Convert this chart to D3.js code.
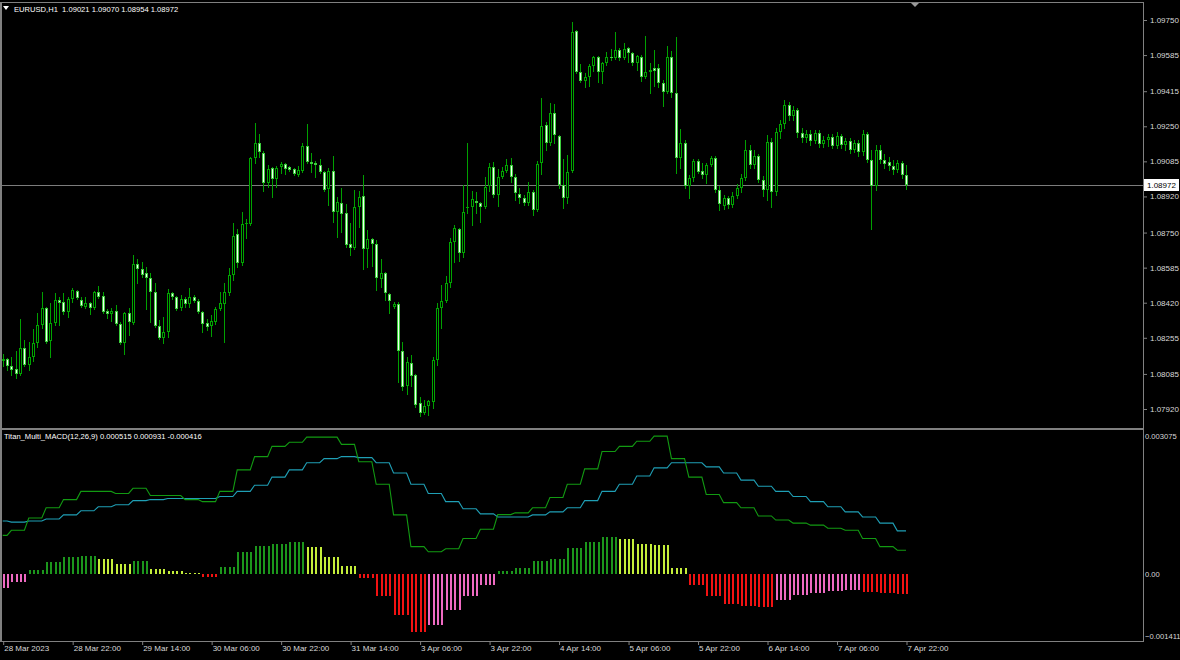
<!DOCTYPE html>
<html><head><meta charset="utf-8">
<script src="https://cdn.jsdelivr.net/npm/d3@7"></script>
<style>html,body{margin:0;padding:0;background:#000;overflow:hidden}svg{display:block}</style>
</head><body><svg id="c" width="1180" height="660"></svg>
<script>
// ---------------- DATA ----------------
const symbolTitle = "EURUSD,H1";
const lastOHLC = ["1.09021", "1.09070", "1.08954", "1.08972"];
const macdTitle = "Titan_Multi_MACD(12,26,9)";
const macdLastValues = ["0.000515", "0.000931", "-0.000416"];
const lastPrice = 1.08972;
const firstBarHour = 6; // first bar: 28 Mar 2023 06:00, H1 bars, MACD computed on H4

const open = [1.08146,1.08156,1.08123,1.08109,1.08085,1.08207,1.08127,1.08165,1.08231,1.08315,
1.08395,1.08240,1.08325,1.08433,1.08424,1.08377,1.08438,1.08475,1.08433,1.08400,
1.08419,1.08395,1.08471,1.08452,1.08381,1.08367,1.08381,1.08320,1.08231,1.08372,
1.08325,1.08602,1.08579,1.08560,1.08536,1.08471,1.08311,1.08254,1.08283,1.08466,
1.08447,1.08395,1.08438,1.08414,1.08447,1.08428,1.08377,1.08325,1.08311,1.08330,
1.08391,1.08414,1.08466,1.08550,1.08743,1.08607,1.08790,1.08790,1.09100,1.09171,
1.09124,1.08983,1.09053,1.09002,1.09058,1.09072,1.09058,1.09049,1.09020,1.09039,
1.09157,1.09082,1.09077,1.09067,1.09035,1.08955,1.09039,1.08847,1.08889,1.08842,
1.08696,1.08677,1.08870,1.08922,1.08672,1.08720,1.08696,1.08531,1.08560,1.08461,
1.08400,1.08414,1.08193,1.08028,1.08137,1.08080,1.07948,1.07901,1.07934,1.07953,
1.08151,1.08395,1.08428,1.08513,1.08706,1.08767,1.08654,1.08865,1.08870,1.08898,
1.08889,1.08870,1.08969,1.09058,1.08926,1.09011,1.09039,1.09067,1.09011,1.08931,
1.08912,1.08889,1.08941,1.08856,1.09077,1.09256,1.09171,1.09313,1.09204,1.08973,
1.08912,1.09039,1.09698,1.09506,1.09463,1.09482,1.09534,1.09576,1.09506,1.09548,
1.09576,1.09571,1.09609,1.09571,1.09618,1.09595,1.09548,1.09576,1.09482,1.09506,
1.09524,1.09524,1.09454,1.09412,1.09576,1.09407,1.09100,1.09171,1.08969,1.09006,
1.09086,1.09039,1.09020,1.09067,1.09100,1.08950,1.08875,1.08912,1.08879,1.08922,
1.08959,1.09006,1.09138,1.09067,1.09110,1.08997,1.08950,1.09176,1.08941,1.09223,
1.09261,1.09350,1.09299,1.09327,1.09218,1.09194,1.09213,1.09180,1.09218,1.09166,
1.09185,1.09199,1.09157,1.09204,1.09161,1.09180,1.09138,1.09171,1.09128,1.09213,
1.09091,1.08969,1.09138,1.09091,1.09082,1.09063,1.09044,1.09077,1.09021];

const high = [1.08179,1.08160,1.08165,1.08193,1.08344,1.08245,1.08236,1.08297,1.08372,1.08471,
1.08400,1.08419,1.08466,1.08447,1.08466,1.08447,1.08489,1.08480,1.08447,1.08447,
1.08424,1.08475,1.08499,1.08471,1.08391,1.08395,1.08409,1.08330,1.08377,1.08395,
1.08644,1.08626,1.08612,1.08588,1.08560,1.08513,1.08339,1.08353,1.08485,1.08471,
1.08452,1.08456,1.08447,1.08489,1.08456,1.08438,1.08381,1.08344,1.08362,1.08400,
1.08471,1.08513,1.08583,1.08795,1.08767,1.08847,1.08814,1.09105,1.09266,1.09213,
1.09133,1.09067,1.09058,1.09063,1.09082,1.09077,1.09063,1.09053,1.09063,1.09171,
1.09261,1.09124,1.09086,1.09096,1.09039,1.09053,1.09110,1.08917,1.08959,1.08884,
1.08795,1.08950,1.08945,1.09020,1.08762,1.08724,1.08715,1.08626,1.08565,1.08466,
1.08424,1.08424,1.08236,1.08165,1.08174,1.08085,1.07976,1.07962,1.07962,1.08165,
1.08419,1.08503,1.08545,1.08724,1.08785,1.08771,1.08973,1.09171,1.08945,1.08941,
1.08894,1.09011,1.09077,1.09082,1.09049,1.09058,1.09096,1.09100,1.09025,1.08959,
1.08926,1.08988,1.08950,1.09086,1.09383,1.09270,1.09360,1.09355,1.09209,1.09096,
1.09115,1.09741,1.09703,1.09543,1.09501,1.09543,1.09581,1.09581,1.09553,1.09600,
1.09614,1.09694,1.09618,1.09642,1.09623,1.09600,1.09585,1.09585,1.09675,1.09548,
1.09609,1.09543,1.09468,1.09628,1.09604,1.09670,1.09237,1.09185,1.09020,1.09096,
1.09096,1.09077,1.09077,1.09110,1.09110,1.08969,1.08926,1.08922,1.08941,1.08978,
1.09025,1.09185,1.09161,1.09138,1.09119,1.09016,1.09209,1.09194,1.09242,1.09280,
1.09374,1.09364,1.09346,1.09336,1.09242,1.09232,1.09232,1.09232,1.09232,1.09204,
1.09213,1.09213,1.09223,1.09213,1.09194,1.09194,1.09185,1.09185,1.09232,1.09223,
1.09138,1.09161,1.09161,1.09119,1.09105,1.09091,1.09091,1.09086,1.09070];

const low = [1.08123,1.08104,1.08080,1.08066,1.08080,1.08123,1.08104,1.08146,1.08212,1.08301,
1.08231,1.08165,1.08315,1.08315,1.08367,1.08353,1.08424,1.08438,1.08400,1.08395,
1.08367,1.08391,1.08442,1.08372,1.08348,1.08334,1.08315,1.08226,1.08179,1.08268,
1.08320,1.08513,1.08541,1.08391,1.08330,1.08306,1.08250,1.08231,1.08259,1.08438,
1.08386,1.08386,1.08400,1.08400,1.08424,1.08372,1.08283,1.08292,1.08264,1.08320,
1.08386,1.08236,1.08456,1.08527,1.08588,1.08597,1.08724,1.08785,1.09077,1.09105,
1.08945,1.08964,1.08917,1.08964,1.09030,1.09025,1.09039,1.09020,1.09016,1.09035,
1.09077,1.09035,1.09011,1.09030,1.08945,1.08879,1.08800,1.08729,1.08753,1.08682,
1.08644,1.08672,1.08776,1.08579,1.08588,1.08593,1.08480,1.08494,1.08433,1.08372,
1.08395,1.08048,1.08009,1.07990,1.08028,1.07929,1.07887,1.07896,1.07891,1.07924,
1.08127,1.08301,1.08424,1.08494,1.08612,1.08616,1.08635,1.08842,1.08785,1.08842,
1.08800,1.08865,1.08945,1.08917,1.08875,1.09006,1.09035,1.08988,1.08903,1.08889,
1.08879,1.08879,1.08832,1.08851,1.09025,1.09138,1.09161,1.09171,1.08959,1.08865,
1.08889,1.09035,1.09501,1.09459,1.09435,1.09440,1.09510,1.09459,1.09454,1.09538,
1.09562,1.09567,1.09562,1.09567,1.09553,1.09538,1.09515,1.09463,1.09477,1.09407,
1.09440,1.09435,1.09346,1.09407,1.09388,1.09030,1.09053,1.08959,1.08912,1.08992,
1.09030,1.09006,1.08983,1.09063,1.08941,1.08856,1.08861,1.08865,1.08870,1.08912,
1.08941,1.08997,1.09053,1.09053,1.08988,1.08922,1.08903,1.08870,1.08926,1.09194,
1.09242,1.09280,1.09280,1.09199,1.09176,1.09176,1.09161,1.09171,1.09152,1.09152,
1.09157,1.09147,1.09147,1.09147,1.09138,1.09124,1.09128,1.09110,1.09115,1.09082,
1.08767,1.08950,1.09077,1.09053,1.09044,1.09025,1.09035,1.09006,1.08954];

const close = [1.08156,1.08123,1.08104,1.08085,1.08207,1.08127,1.08165,1.08231,1.08315,1.08395,
1.08236,1.08325,1.08433,1.08419,1.08377,1.08438,1.08480,1.08442,1.08405,1.08419,
1.08395,1.08471,1.08447,1.08377,1.08367,1.08381,1.08320,1.08231,1.08372,1.08330,
1.08602,1.08579,1.08550,1.08536,1.08471,1.08311,1.08254,1.08283,1.08466,1.08447,
1.08391,1.08438,1.08414,1.08447,1.08428,1.08377,1.08320,1.08306,1.08334,1.08391,
1.08419,1.08471,1.08550,1.08734,1.08607,1.08790,1.08795,1.09100,1.09171,1.09129,
1.08983,1.09049,1.09002,1.09053,1.09072,1.09049,1.09044,1.09025,1.09044,1.09157,
1.09082,1.09072,1.09067,1.09035,1.08950,1.09039,1.08847,1.08894,1.08837,1.08691,
1.08677,1.08870,1.08917,1.08672,1.08720,1.08696,1.08536,1.08560,1.08466,1.08428,
1.08414,1.08193,1.08024,1.08142,1.08076,1.07938,1.07901,1.07934,1.07957,1.08151,
1.08395,1.08428,1.08513,1.08706,1.08771,1.08654,1.08847,1.08870,1.08908,1.08889,
1.08870,1.08964,1.09058,1.08926,1.09011,1.09039,1.09067,1.09011,1.08936,1.08912,
1.08889,1.08941,1.08856,1.09072,1.09252,1.09171,1.09313,1.09209,1.08973,1.08912,
1.09035,1.09694,1.09506,1.09463,1.09482,1.09534,1.09576,1.09506,1.09548,1.09576,
1.09571,1.09609,1.09571,1.09614,1.09595,1.09548,1.09581,1.09482,1.09506,1.09515,
1.09510,1.09454,1.09412,1.09576,1.09407,1.09100,1.09171,1.08969,1.09006,1.09086,
1.09035,1.09020,1.09067,1.09100,1.08950,1.08884,1.08912,1.08879,1.08922,1.08959,
1.09006,1.09138,1.09067,1.09110,1.08997,1.08950,1.09176,1.08941,1.09223,1.09261,
1.09350,1.09299,1.09327,1.09218,1.09194,1.09213,1.09180,1.09218,1.09166,1.09185,
1.09199,1.09157,1.09204,1.09161,1.09180,1.09138,1.09171,1.09128,1.09213,1.09091,
1.08969,1.09138,1.09091,1.09072,1.09063,1.09044,1.09077,1.09021,1.08972];

const priceTicks = [1.09750,1.09585,1.09415,1.09250,1.09085,1.08920,1.08750,1.08585,1.08420,1.08255,1.08085,1.07920];
const priceRange = [1.07920, 1.09750];

const timeLabels = ["28 Mar 2023","28 Mar 22:00","29 Mar 14:00","30 Mar 06:00","30 Mar 22:00","31 Mar 14:00","3 Apr 06:00","3 Apr 22:00","4 Apr 14:00","5 Apr 06:00","5 Apr 22:00","6 Apr 14:00","7 Apr 06:00","7 Apr 22:00"];
const timeLabelBars = [0,16,32,48,64,80,96,112,128,144,160,176,192,208];

// H4 MACD values (one per H4 block)
const macdMain = [0.000834,0.000944,0.001208,0.001427,0.001603,0.001779,0.001779,0.001735,0.001845,0.001691,
0.001691,0.001603,0.001559,0.001779,0.00224,0.002525,0.002745,0.002833,0.002943,0.002943,
0.002789,0.002416,0.001932,0.001274,0.000593,0.000483,0.000549,0.000769,0.000966,0.00128,
0.001318,0.001427,0.001647,0.001932,0.002262,0.002635,0.002745,0.002855,0.002965,0.002481,
0.002086,0.001713,0.001537,0.001427,0.001252,0.001164,0.001098,0.001054,0.000988,0.000944,
0.000769,0.000593,0.000515];
const macdSignal = [0.001142,0.00112,0.001142,0.001186,0.001274,0.001362,0.001449,0.001493,0.001581,0.001603,
0.001625,0.001625,0.001625,0.001669,0.001779,0.001911,0.002086,0.00224,0.002394,0.002481,
0.002525,0.002503,0.002394,0.002174,0.001932,0.001735,0.001559,0.001405,0.001296,0.00123,
0.00123,0.001274,0.00134,0.001427,0.001581,0.001779,0.001932,0.002108,0.002284,0.002394,
0.002394,0.002306,0.002174,0.00202,0.001889,0.001779,0.001669,0.001559,0.001449,0.00134,
0.00123,0.001098,0.000931];
const macdHist = [-0.00029,-0.00017,0.000095,0.00026,0.00036,0.0004,0.00033,0.00023,0.00028,0.00011,
0.00008,0.00002,-0.00005,0.00015,0.00048,0.00061,0.00065,0.00069,0.00059,0.00037,
0.00018,-0.00009,-0.00046,-0.00088,-0.00125,-0.00108,-0.00077,-0.00046,-0.00022,0.00007,
0.00013,0.00029,0.00033,0.00057,0.0007,0.00079,0.00075,0.00066,0.00062,0.00013,
-0.00022,-0.00046,-0.00064,-0.00068,-0.0007,-0.00055,-0.00044,-0.0004,-0.00035,-0.00033,
-0.00037,-0.0004,-0.000416];
const macdRange = [-0.001411, 0.003075];
const macdTicks = [0.003075, 0, -0.001411];

// ---------------- LAYOUT / STYLE ----------------
const W = 1180, H = 660;
const L = 1, R = 1143;
const mainTop = 2, mainBot = 428;
const subTop = 430, subBot = 641;
const GRAY = "#808080", TXT = "#d8d8d8";
const BULL_EDGE = "#00a400", BEAR_EDGE = "#3ccc3c", WICK = "#00a000", BEARFILL = "#f2fff2";
const C_GREEN = "#1c961c", C_YELLOW = "#c4ee3a", C_RED = "#f21212", C_PINK = "#ee6ac2";
const FONT = "Liberation Sans, Arial, sans-serif";

const N = close.length;
const svg = d3.select("#c");
svg.append("rect").attr("width", W).attr("height", H).attr("fill", "#000");

const x = d3.scaleLinear().domain([0, N - 1]).range([2.7, 906]);
const y = d3.scaleLinear().domain(priceRange).range([409, 20]);
const ym = d3.scaleLinear().domain(macdRange).range([640, 431]);
const blockOf = i => Math.floor((i + firstBarHour % 4) / 4);

// clip paths
const defs = svg.append("defs");
defs.append("clipPath").attr("id", "cpMain").append("rect").attr("x", L + 1).attr("y", mainTop + 1).attr("width", R - L - 1).attr("height", mainBot - mainTop - 1);
defs.append("clipPath").attr("id", "cpSub").append("rect").attr("x", L + 1).attr("y", subTop + 1).attr("width", R - L - 1).attr("height", subBot - subTop - 1);

// ---- current price line
svg.append("line").attr("x1", L).attr("x2", R).attr("y1", Math.round(y(lastPrice)) + 0.5).attr("y2", Math.round(y(lastPrice)) + 0.5)
  .attr("stroke", "#7c7c7c").attr("stroke-width", 1);

// ---- candles
const gC = svg.append("g").attr("clip-path", "url(#cpMain)").attr("shape-rendering", "crispEdges");
const idx = d3.range(N);
const isBull = i => close[i] >= open[i];
gC.selectAll("line.wick").data(idx).join("line").attr("class", "wick")
  .attr("x1", i => Math.round(x(i)) + 0.5).attr("x2", i => Math.round(x(i)) + 0.5)
  .attr("y1", i => Math.round(y(high[i]))).attr("y2", i => Math.round(y(low[i])) + 1)
  .attr("stroke", WICK).attr("stroke-width", 1);
const bodyTop = i => Math.round(y(Math.max(open[i], close[i])));
const bodyH = i => Math.max(1, Math.round(y(Math.min(open[i], close[i]))) - bodyTop(i));
gC.selectAll("rect.body").data(idx).join("rect").attr("class", "body")
  .attr("x", i => Math.round(x(i)) - 1).attr("y", bodyTop).attr("width", 3).attr("height", bodyH)
  .attr("fill", i => isBull(i) ? BULL_EDGE : BEAR_EDGE);
gC.selectAll("rect.inner").data(idx.filter(i => bodyH(i) > 2)).join("rect").attr("class", "inner")
  .attr("x", i => Math.round(x(i))).attr("y", i => bodyTop(i) + 1).attr("width", 1).attr("height", i => bodyH(i) - 2)
  .attr("fill", i => isBull(i) ? "#000" : BEARFILL);

// ---- MACD histogram
const gS = svg.append("g").attr("clip-path", "url(#cpSub)");
const histColor = i => {
  const b = blockOf(i), v = macdHist[b], p = b > 0 ? macdHist[b - 1] : v;
  if (v >= 0) return v >= p ? C_GREEN : C_YELLOW;
  return v < p ? C_RED : C_PINK;
};
gS.selectAll("rect.hist").data(idx).join("rect").attr("class", "hist")
  .attr("x", i => Math.round(x(i)) - 0.5).attr("width", 2)
  .attr("y", i => Math.min(ym(0), ym(macdHist[blockOf(i)])))
  .attr("height", i => Math.max(1, Math.abs(ym(macdHist[blockOf(i)]) - ym(0))))
  .attr("fill", histColor).attr("shape-rendering", "crispEdges");

const lineMain = d3.line().x(i => x(i)).y(i => ym(macdMain[blockOf(i)]));
const lineSig = d3.line().x(i => x(i)).y(i => ym(macdSignal[blockOf(i)]));
gS.append("path").attr("d", lineSig(idx)).attr("fill", "none").attr("stroke", "#1f9fb5").attr("stroke-width", 1.1);
gS.append("path").attr("d", lineMain(idx)).attr("fill", "none").attr("stroke", "#129a12").attr("stroke-width", 1.1);

// ---- frame
const fr = svg.append("g").attr("stroke", GRAY).attr("shape-rendering", "crispEdges");
fr.append("line").attr("x1", 0).attr("x2", R + 1).attr("y1", mainTop + 0.5).attr("y2", mainTop + 0.5);
fr.append("line").attr("x1", 0).attr("x2", R + 1).attr("y1", mainBot + 0.5).attr("y2", mainBot + 0.5).attr("stroke-width", 2);
fr.append("line").attr("x1", 0).attr("x2", R + 1).attr("y1", subBot + 0.5).attr("y2", subBot + 0.5);
fr.append("line").attr("x1", 1).attr("x2", 1).attr("y1", mainTop).attr("y2", subBot + 1).attr("stroke-width", 2);
fr.append("line").attr("x1", R + 0.5).attr("x2", R + 0.5).attr("y1", mainTop).attr("y2", subBot + 1);

// ---- price axis
const axP = svg.append("g").attr("transform", `translate(${R},0)`)
  .call(d3.axisRight(y).tickValues(priceTicks).tickFormat(d3.format(".5f")).tickSize(4).tickPadding(3));
axP.select(".domain").remove();
axP.selectAll("line").attr("stroke", GRAY);
axP.selectAll("text").attr("fill", TXT).attr("font-family", FONT).attr("font-size", "8px");

// current price label
const cpY = Math.round(y(lastPrice));
svg.append("rect").attr("x", R + 1).attr("y", cpY - 6).attr("width", 35).attr("height", 12).attr("fill", "#fff");
svg.append("text").attr("x", R + 4).attr("y", cpY + 3).attr("fill", "#000").attr("font-family", FONT).attr("font-size", "8px").text(d3.format(".5f")(lastPrice));

// ---- MACD axis
const axM = svg.append("g").attr("transform", `translate(${R},0)`)
  .call(d3.axisRight(ym).tickValues(macdTicks).tickFormat(d => d === 0 ? "0.00" : d3.format(".6f")(d)).tickSize(0).tickPadding(2));
axM.select(".domain").remove();
axM.selectAll("text").attr("fill", TXT).attr("font-family", FONT).attr("font-size", "7.6px")
  .attr("dy", (d, i) => i === 0 ? "1.05em" : (i === 2 ? "-0.15em" : "0.32em"));

// ---- time axis
const axT = svg.append("g").attr("transform", `translate(0,${subBot})`)
  .call(d3.axisBottom(x).tickValues(timeLabelBars).tickFormat((d, i) => timeLabels[i]).tickSize(4));
axT.select(".domain").remove();
axT.selectAll("line").attr("stroke", GRAY).attr("transform", "translate(0.5,0)");
axT.selectAll("text").attr("fill", TXT).attr("font-family", FONT).attr("font-size", "8px")
  .attr("text-anchor", "start").attr("x", 1).attr("y", 10).attr("dy", 0);

// ---- headers
svg.append("path").attr("d", "M3,6 L9,6 L6,10 Z").attr("fill", "#fff");
svg.append("text").attr("x", 14).attr("y", 12).attr("fill", "#fff").attr("font-family", FONT).attr("font-size", "7.6px")
  .attr("xml:space", "preserve").text(symbolTitle + "  " + lastOHLC.join(" "));
svg.append("text").attr("x", 4).attr("y", 439).attr("fill", "#fff").attr("font-family", FONT).attr("font-size", "7.6px")
  .text(macdTitle + " " + macdLastValues.join(" "));
// chart shift marker
svg.append("path").attr("d", "M911,3 L919,3 L915,7 Z").attr("fill", "#9a9a9a");
</script></body></html>
